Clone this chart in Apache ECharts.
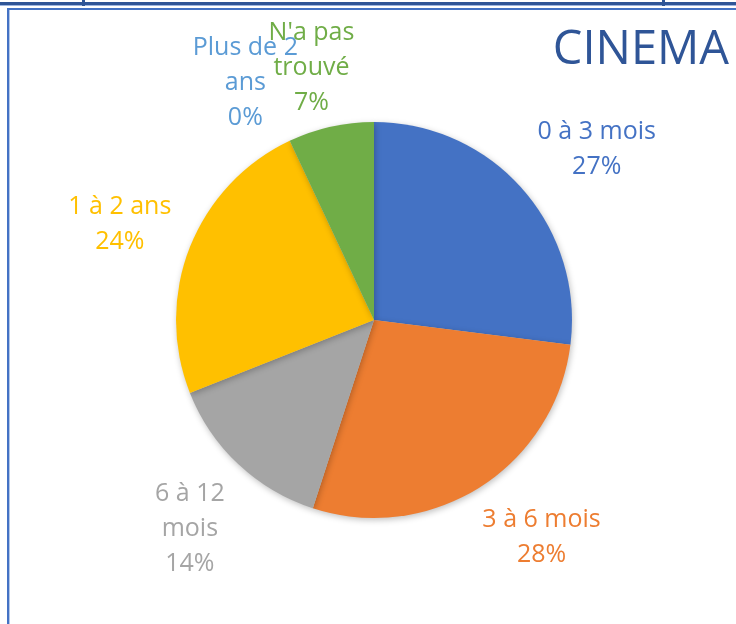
<!DOCTYPE html>
<html>
<head>
<meta charset="utf-8">
<script src="https://cdn.jsdelivr.net/npm/echarts@6/dist/echarts.min.js"></script>
<style>
html,body{margin:0;padding:0;background:#fff;}
#c{width:736px;height:624px;}
</style>
</head>
<body>
<div id="c"></div>
<script>
const categories = ['0 à 3 mois', '3 à 6 mois', '6 à 12\nmois', '1 à 2 ans', 'Plus de 2\nans', "N'a pas\ntrouvé"];
const values = [27, 28, 14, 24, 0, 7];
const colors = ['#4472C4', '#ED7D31', '#A5A5A5', '#FFC000', '#5B9BD5', '#70AD47'];
const title = 'CINEMA';

const CX = 374, CY = 320, R = 198, GAP = 20;
const total = values.reduce((a, b) => a + b, 0);
const mids = [];
let acc = 0;
values.forEach(v => { mids.push((acc + v / 2) / total * 2 * Math.PI); acc += v; });
const clamp = (u) => Math.max(-1, Math.min(1, u));

const chart = echarts.init(document.getElementById('c'), null, {renderer: 'canvas'});
const font = '"Open Sans", sans-serif';
chart.setOption({
  animation: false,
  backgroundColor: '#ffffff',
  title: {
    text: title, right: 2, top: 22,
    textStyle: {fontFamily: font, fontSize: 47, fontWeight: 'normal', color: '#2F5597'}
  },
  graphic: [
    {type: 'rect', shape: {x: 0, y: 2, width: 736, height: 3}, style: {fill: '#2F5597'}},
    {type: 'rect', shape: {x: 0, y: 5, width: 736, height: 1}, style: {fill: '#9DB5E0'}},
    {type: 'rect', shape: {x: 82, y: 0, width: 3, height: 6}, style: {fill: '#2F5597'}},
    {type: 'rect', shape: {x: 662, y: 0, width: 3, height: 6}, style: {fill: '#2F5597'}},
    {type: 'rect', shape: {x: 7, y: 8, width: 729, height: 2}, style: {fill: '#4472C4'}},
    {type: 'rect', shape: {x: 7, y: 8, width: 2, height: 616}, style: {fill: '#4472C4'}},
    {type: 'rect', shape: {x: 9, y: 10, width: 1, height: 614}, style: {fill: '#B4C7E7'}}
  ],
  series: [{
    type: 'pie',
    center: [CX, CY],
    radius: R,
    startAngle: 90,
    clockwise: true,
    avoidLabelOverlap: false,
    minShowLabelAngle: 0,
    itemStyle: {borderWidth: 0, shadowBlur: 6, shadowColor: 'rgba(0,0,0,0.25)', shadowOffsetX: 1, shadowOffsetY: 2},
    label: {
      show: true, position: 'outside',
      formatter: '{b}\n{d}%',
      fontFamily: font, fontSize: 25, lineHeight: 35, align: 'center'
    },
    labelLine: {show: false, length: 0, length2: 0},
    emphasis: {disabled: true},
    labelLayout: function (p) {
      const a = mids[p.dataIndex];
      const ux = Math.sin(a), uy = -Math.cos(a);
      const ax = CX + (R + GAP) * ux, ay = CY + (R + GAP) * uy;
      const w = p.labelRect.width, h = p.labelRect.height;
      const fy = uy < 0 ? 0.75 : 0.95;
      return {
        x: ax + w / 2 * clamp(ux * 1.6),
        y: ay + h / 2 * clamp(uy * 1.6) * fy,
        align: 'center', verticalAlign: 'middle'
      };
    },
    data: categories.map((c, i) => ({
      name: c, value: values[i],
      itemStyle: {color: colors[i]},
      label: {color: colors[i]}
    }))
  }]
});
</script>
</body>
</html>
